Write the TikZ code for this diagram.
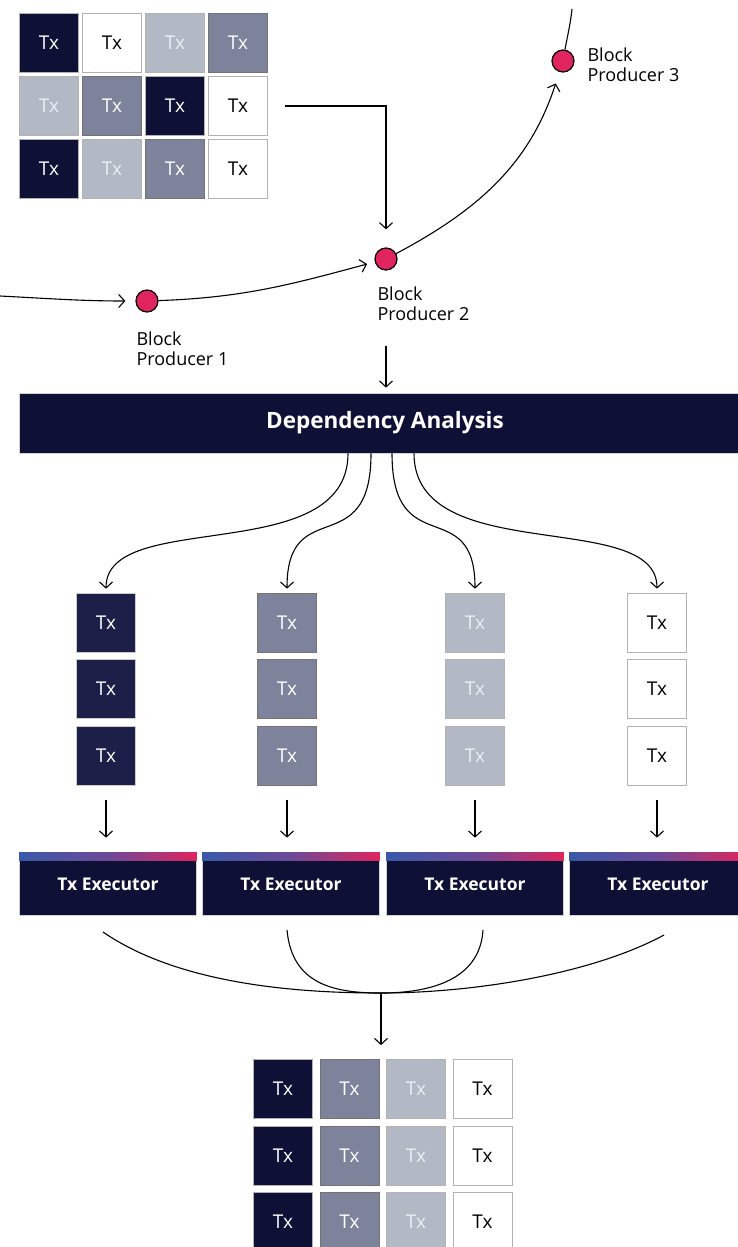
\documentclass[tikz,border=0pt]{standalone}
\usepackage{fontspec}
\setmainfont{Open Sans}
\usepackage{tikz}
\usepackage{xcolor}
\usetikzlibrary{calc}
\usetikzlibrary{positioning, arrows.meta}

\definecolor{navy}{HTML}{0E1035}
\definecolor{colnavy}{HTML}{1C2049}
\definecolor{slate}{HTML}{7E839C}
\definecolor{mist}{HTML}{B2B9C4}
\definecolor{mistext}{HTML}{ECEEF2}
\definecolor{ruby}{HTML}{E0245E}
\definecolor{cobalt}{HTML}{3A58A8}
\definecolor{plum}{HTML}{6C4A98}

\begin{document}
\begin{tikzpicture}[x=1pt, y=-1pt, line width=1.1pt, >={Straight Barb[length=6pt,width=13pt]},
  cell/.style = {draw=gray!60, line width=0.7pt, minimum size=59pt, inner sep=0pt, font=\fontsize{19}{22}\selectfont},
  txnavy/.style = {cell, fill=navy, text=white},
  txcol/.style = {cell, fill=colnavy, text=white, draw=gray!40},
  txslate/.style = {cell, fill=slate, text=white, draw=gray!90!black},
  txmist/.style = {cell, fill=mist, text=mistext},
  txwhite/.style = {cell, fill=white, text=black},
  producer/.style = {circle, draw, line width=1.2pt, fill=ruby, minimum size=22pt, inner sep=0pt},
  bplabel/.style = {align=left, anchor=north west, inner sep=0pt, font=\fontsize{18}{20}\selectfont},
  darkbar/.style = {fill=navy, draw=gray!35, line width=0.7pt, text=white, inner sep=0pt, font=\bfseries\fontsize{17.5}{20}\selectfont}]

\useasboundingbox (0,0) rectangle (737,1247);

% pending transactions
\foreach \c [count=\i from 0] in {txnavy,txwhite,txmist,txslate,txmist,txslate,txnavy,txwhite,txnavy,txmist,txslate,txwhite} {
  \pgfmathtruncatemacro{\r}{div(\i,4)+1}
  \pgfmathtruncatemacro{\k}{mod(\i,4)+1}
  \node[\c] (g\r\k) at (49+63*\k-63, 43+63*\r-63) {Tx};
}

% block producers
\node[producer] (bp1) at (147,301) {};
\node[producer] (bp2) at (386,259) {};
\node[producer] (bp3) at (563,61) {};
\node[bplabel] (l1) at (136,331) {Block\\Producer 1};
\node[bplabel] (l2) at (377,286) {Block\\Producer 2};
\node[bplabel] (l3) at (587,47) {Block\\Producer 3};

\coordinate (chainin) at (0,296);
\coordinate (chainout) at (572,9);
\draw[->, shorten >=10pt] (chainin) to[out=-3, in=180] (bp1);
\draw[->, shorten >=8pt] (bp1) to[out=2, in=195] (bp2);
\draw[->, shorten >=12pt] (bp2) to[out=28, in=-108] (bp3);
\draw (bp3) to[out=80, in=-96] (chainout);

\draw[->, shorten <=17pt, shorten >=18pt] (g24.east) -| (bp2);

% analysis
\node[darkbar, minimum width=732pt, minimum height=60pt, font=\bfseries\fontsize{22.5}{25}\selectfont] (da) at (385,423) {Dependency Analysis};
\draw[->, shorten <=75pt, shorten >=5pt] (bp2) -- (bp2 |- da.north);

% groups
\foreach \c/\x [count=\k] in {txcol/106, txslate/287, txmist/475, txwhite/657}
  \foreach \r in {1,2,3}
    \node[\c] (c\k\r) at (\x, 556+66.5*\r) {Tx};

\draw[->, shorten >=4pt] ([xshift=-37pt]da.south) .. controls +(0,115) and +(0,-85) .. (c11.north);
\draw[->, shorten >=4pt] ([xshift=-14pt]da.south) .. controls +(0,110) and +(0,-100) .. (c21.north);
\draw[->, shorten >=4pt] ([xshift=7pt]da.south) .. controls +(0,110) and +(0,-100) .. (c31.north);
\draw[->, shorten >=4pt] ([xshift=29pt]da.south) .. controls +(0,115) and +(0,-85) .. (c41.north);

% executors
\foreach \x [count=\k] in {108,291,475,658} {
  \node[darkbar, minimum width=177pt, minimum height=62pt] (ex\k) at (\x,884) {Tx Executor};
  \shade[left color=cobalt, right color=ruby, middle color=plum] (ex\k.north west) rectangle ([yshift=-8pt]ex\k.north east);
  \draw[->, shorten <=15pt, shorten >=15pt] (c\k3.south) -- (c\k3.south |- ex\k.north);
}

% merged result
\coordinate (merge) at (381,993);
\coordinate (o1) at (103,932);
\coordinate (o4) at (664,935);
\coordinate (i2) at (287,930);
\coordinate (i3) at (483,930);
\draw (o1) .. controls (180,985) and (300,993) .. (merge) .. controls (470,993) and (590,975) .. (o4);
\draw (i2) .. controls (292,985) and (335,993) .. (merge) .. controls (430,993) and (480,980) .. (i3);

\foreach \c/\x [count=\k] in {txnavy/283, txslate/349.5, txmist/416, txwhite/482.5}
  \foreach \r in {1,2,3}
    \node[\c] (b\r\k) at (\x, 1022.6+66.4*\r) {Tx};

\draw[->, shorten >=14pt] (merge) -- (merge |- b12.north);
\end{tikzpicture}
\end{document}
